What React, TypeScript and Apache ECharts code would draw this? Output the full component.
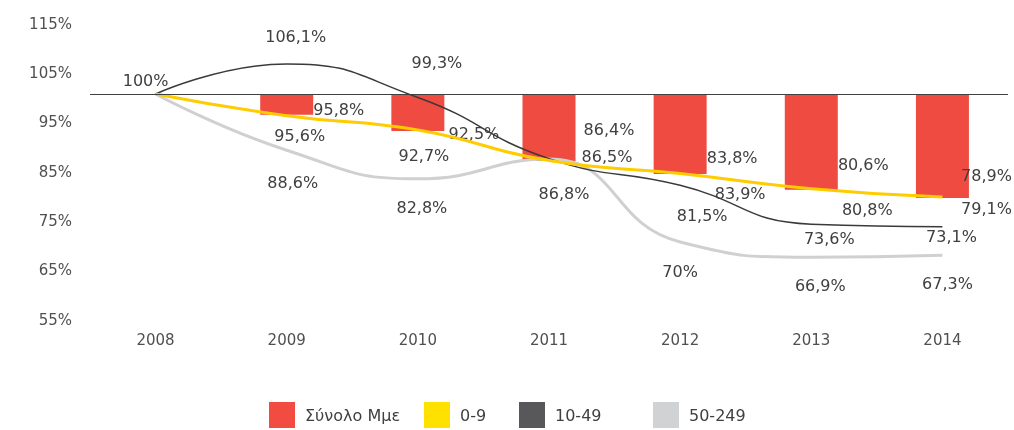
import React, { useEffect, useRef } from "react";
import * as echarts from "echarts";

const years = ["2008", "2009", "2010", "2011", "2012", "2013", "2014"];
const totalSme = [100, 95.8, 92.5, 86.4, 83.8, 80.6, 78.9];
const micro09 = [100, 95.6, 92.7, 86.5, 83.9, 80.8, 79.1];
const small1049 = [100, 106.1, 99.3, 86.9, 81.5, 73.6, 73.1];
const medium50249 = [100, 88.6, 82.8, 86.8, 70, 66.9, 67.3];
const yTicks = { min: 55, max: 115, interval: 10 };

// label nudges (style only): [dx, dy] relative to the point, null = hidden
const barNudge: (number[] | null)[] = [null, [52, -5], [56, 2], [60, -32], [52, -16], [52, -25], [44, -23]];
const yellowNudge: (number[] | null)[] = [[-10, -14], [13, 20], [6, 25], [58, -4], [60, 20], [56, 21], [44, 11]];
const darkNudge: (number[] | null)[] = [null, [9, -27], [19, -35], null, [22, 30], [18, 14], [9, 10]];
const lightNudge: (number[] | null)[] = [null, [6, 32], [4, 29], [15, 34], [0, 29], [9, 28], [5, 28]];

const fmt = (v: number) => `${String(v).replace(".", ",")}%`;
const FONT = "DejaVu Sans, Verdana, sans-serif";
const TXT = "#404040";

function lineData(vals: number[], nudge: (number[] | null)[]) {
  return vals.map((v, i) => ({
    value: v,
    label: nudge[i]
      ? { show: true, position: "inside", offset: nudge[i], formatter: fmt(v) }
      : { show: false },
  }));
}

export default function App() {
  const ref = useRef<HTMLDivElement>(null);
  useEffect(() => {
    if (!ref.current) return;
    const chart = echarts.init(ref.current, undefined, { renderer: "svg" });
    const labelStyle = {
      fontFamily: FONT,
      fontSize: 16,
      color: TXT,
    };
    const legendBase = {
      top: 402,
      padding: 0,
      icon: "rect",
      itemWidth: 26,
      itemHeight: 26,
      textStyle: { fontFamily: FONT, fontSize: 16, color: TXT, padding: [0, 0, 0, 5] },
      selectedMode: false,
    };
    chart.setOption({
      animation: false,
      grid: { left: 90, right: 6, top: 20, height: 296 },
      legend: [
        { ...legendBase, left: 269, data: [{ name: "Σύνολο Μμε", itemStyle: { color: "#F24C42" } }] },
        { ...legendBase, left: 424, data: [{ name: "0-9", itemStyle: { color: "#FFE100" } }] },
        { ...legendBase, left: 519, data: [{ name: "10-49", itemStyle: { color: "#58585A" } }] },
        { ...legendBase, left: 653, data: [{ name: "50-249", itemStyle: { color: "#D1D2D4" } }] },
      ],
      xAxis: {
        type: "category",
        data: years,
        axisLine: { show: false },
        axisTick: { show: false },
        axisLabel: { margin: 16, fontFamily: FONT, fontSize: 15, color: "#505050" },
      },
      yAxis: {
        type: "value",
        min: yTicks.min,
        max: yTicks.max,
        interval: yTicks.interval,
        splitLine: { show: false },
        axisLine: { show: false },
        axisTick: { show: false },
        axisLabel: {
          formatter: "{value}%",
          fontFamily: FONT,
          fontSize: 15,
          color: "#505050",
          margin: 18,
          verticalAlign: "top",
          lineHeight: 7,
        },
      },
      series: [
        {
          name: "base",
          type: "bar",
          stack: "sme",
          barWidth: 53,
          itemStyle: { color: "rgba(0,0,0,0)" },
          data: totalSme,
          silent: true,
        },
        {
          name: "Σύνολο Μμε",
          type: "bar",
          stack: "sme",
          barWidth: 53,
          itemStyle: { color: "#F04B40" },
          label: { ...labelStyle },
          data: totalSme.map((v, i) => ({
            value: +(100 - v).toFixed(2),
            label: barNudge[i]
              ? {
                  show: true,
                  position: "insideBottom",
                  distance: 0,
                  verticalAlign: "middle",
                  align: "center",
                  offset: barNudge[i],
                  formatter: fmt(v),
                }
              : { show: false },
          })),
          markLine: {
            silent: true,
            symbol: "none",
            label: { show: false },
            lineStyle: { color: "#404040", width: 1, type: "solid" },
            data: [{ yAxis: 100 }],
          },
        },
        {
          name: "50-249",
          type: "line",
          smooth: true,
          symbol: "circle",
          symbolSize: 1,
          showAllSymbol: true,
          itemStyle: { color: "rgba(0,0,0,0)" },
          lineStyle: { color: "#D0D0D0", width: 3 },
          label: { ...labelStyle },
          data: lineData(medium50249, lightNudge),
        },
        {
          name: "10-49",
          type: "line",
          smooth: true,
          symbol: "circle",
          symbolSize: 1,
          showAllSymbol: true,
          itemStyle: { color: "rgba(0,0,0,0)" },
          lineStyle: { color: "#3A3A3A", width: 1.5 },
          label: { ...labelStyle },
          data: lineData(small1049, darkNudge),
        },
        {
          name: "0-9",
          type: "line",
          smooth: true,
          symbol: "circle",
          symbolSize: 1,
          showAllSymbol: true,
          itemStyle: { color: "rgba(0,0,0,0)" },
          lineStyle: { color: "#FFCC00", width: 3 },
          label: { ...labelStyle },
          data: lineData(micro09, yellowNudge),
        },
      ],
    });
    return () => chart.dispose();
  }, []);
  return (
    <div
      ref={ref}
      style={{ position: "fixed", left: 0, top: 0, width: 1014, height: 430 }}
    />
  );
}
